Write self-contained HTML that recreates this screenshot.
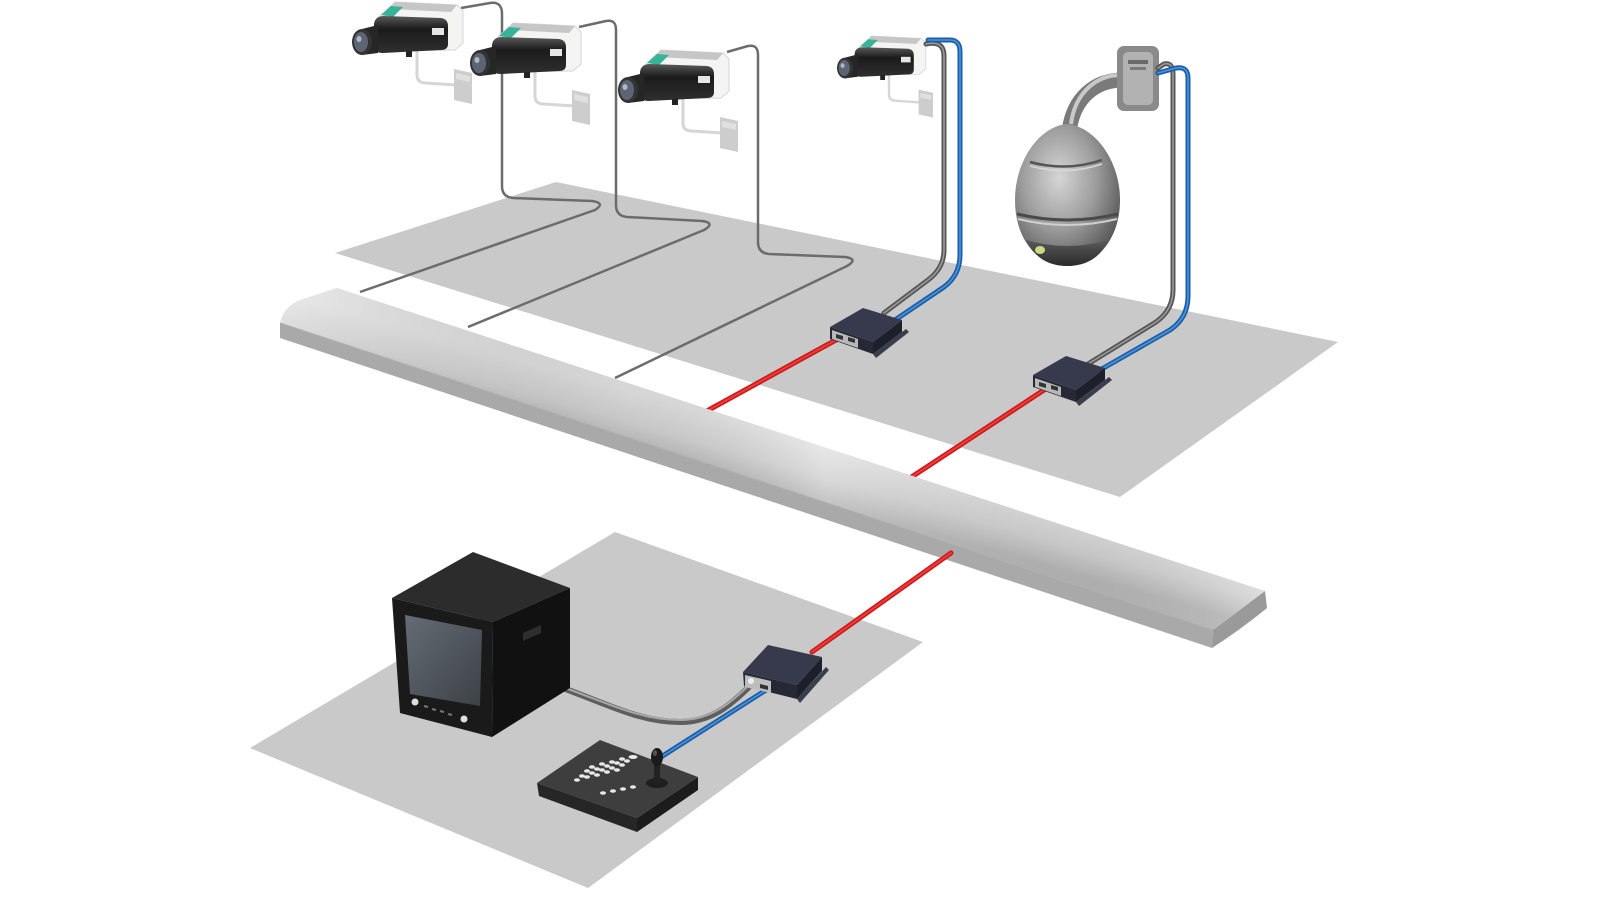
<!DOCTYPE html>
<html><head><meta charset="utf-8"><style>html,body{margin:0;padding:0;background:#fff;}svg{display:block}</style></head>
<body>
<svg width="1600" height="900" viewBox="0 0 1600 900" xmlns="http://www.w3.org/2000/svg">
<defs>
 <linearGradient id="barTop" gradientUnits="userSpaceOnUse" x1="800" y1="439" x2="785" y2="492">
  <stop offset="0" stop-color="#e4e4e4"/><stop offset="0.55" stop-color="#d4d4d4"/><stop offset="1" stop-color="#b9b9b9"/>
 </linearGradient>
 <linearGradient id="barLen" gradientUnits="userSpaceOnUse" x1="280" y1="0" x2="1270" y2="0">
  <stop offset="0" stop-color="#fff" stop-opacity="0.25"/><stop offset="0.35" stop-color="#000" stop-opacity="0.06"/><stop offset="0.55" stop-color="#fff" stop-opacity="0.15"/><stop offset="0.8" stop-color="#000" stop-opacity="0.06"/><stop offset="1" stop-color="#fff" stop-opacity="0.15"/>
 </linearGradient>
 <linearGradient id="camBody" x1="0" y1="0" x2="0" y2="1">
  <stop offset="0" stop-color="#5a5a5a"/><stop offset="0.35" stop-color="#1b1b1b"/><stop offset="1" stop-color="#2f2f2f"/>
 </linearGradient>
 <radialGradient id="domeG" cx="0.42" cy="0.38" r="0.65">
  <stop offset="0" stop-color="#d6d6d6"/><stop offset="0.55" stop-color="#9c9c9c"/><stop offset="1" stop-color="#585858"/>
 </radialGradient>
 <linearGradient id="screenG" x1="0" y1="0" x2="1" y2="1">
  <stop offset="0" stop-color="#666c74"/><stop offset="1" stop-color="#3c4148"/>
 </linearGradient>
 <linearGradient id="glassG" x1="0" y1="0" x2="0" y2="1">
  <stop offset="0" stop-color="#5a5a5a"/><stop offset="1" stop-color="#2a2a2a"/>
 </linearGradient>
 <g id="cam">
  <path d="M55,9 L55,33 Q55,41 64,41 L94,43" fill="none" stroke="#d6d6d6" stroke-width="3"/>
  <path d="M92,27 L110,31 L110,62 L92,58 Z" fill="#cdcdcd"/>
  <path d="M94,31 L108,34 L108,40 L94,37Z" fill="#e0e0e0"/>
  <path d="M18,-26 L33,-40 L95,-37 L101,-31 L101,1 L93,8 L30,9 Z" fill="#f4f4f2" stroke="#d5d5d5" stroke-width="1"/>
  <path d="M33,-40 L95,-37 L89,-30 L27,-33 Z" fill="#c6c6c6"/>
  <path d="M19,-27 L29,-36 L41,-35 L31,-25 Z" fill="#37b39a"/>
  <path d="M12,-18 Q13,-26 22,-26 L79,-24 Q86,-23 86,-16 L86,2 Q86,8 79,8 L21,11 Q12,11 12,4 Z" fill="url(#camBody)"/>
  <path d="M70,-14 L82,-14 L82,-7 L70,-7Z" fill="#e6e6e6"/>
  <rect x="44" y="9" width="6" height="6" fill="#222"/>
  <path d="M0,-13 L16,-17 L16,11 L0,13 Z" fill="#262626"/>
  <ellipse cx="0" cy="0" rx="10" ry="13" fill="#333"/>
  <ellipse cx="-1" cy="0" rx="7" ry="10" fill="#5d6474"/>
  <ellipse cx="-3" cy="-3" rx="2.5" ry="3" fill="#b0b8c8"/>
 </g>
 <g id="sw">
  <path d="M0,0 L43,15 L43,27 L0,12 Z" fill="#262835"/>
  <path d="M43,15 L72,-7 L72,5 L43,27 Z" fill="#1d1f2a"/>
  <path d="M43,27 L76,2 L79,5 L46,31 Z" fill="#3a3d4c"/>
  <path d="M0,0 L33,-19 L72,-7 L43,15 Z" fill="#363a4c"/>
  <path d="M2,3 L28,12 L28,21 L2,12 Z" fill="#b8b8b8"/>
  <path d="M6,7 L13,9 L13,13 L6,11Z" fill="#333"/>
  <path d="M18,10 L25,12 L25,16 L18,14Z" fill="#333"/>
 </g>
</defs>

<!-- floors -->
<polygon points="335,253 556,182 1338,342 1120,497" fill="#c9c9c9"/>
<polygon points="615,532 923,642 588,888 250,748" fill="#c9c9c9"/>

<!-- thin camera cables -->
<g fill="none" stroke="#6c6c6c" stroke-width="2.5" stroke-linejoin="round">
 <path d="M461,8 L490,3 Q502,1 502,14 L502,186 Q502,197 513,198 L592,201 Q606,203 595,210 L360,292"/>
 <path d="M579,27 L606,21 Q616,19 616,30 L616,205 Q616,216 627,217 L702,221 Q716,223 704,230 L468,327"/>
 <path d="M727,52 L748,46 Q758,44 758,55 L758,242 Q758,253 769,254 L845,257 Q859,259 847,266 L615,378"/>
</g>

<!-- cameras -->
<use href="#cam" transform="translate(362,42)"/>
<use href="#cam" transform="translate(480,63)"/>
<use href="#cam" transform="translate(628,90)"/>
<use href="#cam" transform="translate(845,68) scale(0.8)"/>

<!-- cam4 cables -->
<g fill="none" stroke-linecap="round" stroke-linejoin="round">
 <path d="M926,44 Q944,40 944,56 L944,250 Q944,268 928,280 L884,313" stroke="#555" stroke-width="5"/>
 <path d="M926,44 Q944,40 944,56 L944,250 Q944,268 928,280 L884,313" stroke="#9a9a9a" stroke-width="1.6"/>
 <path d="M928,40 L950,40 Q960,40 960,52 L960,255 Q960,275 944,287 L895,320" stroke="#1b5ea8" stroke-width="5"/>
 <path d="M928,40 L950,40 Q960,40 960,52 L960,255 Q960,275 944,287 L895,320" stroke="#4d93dc" stroke-width="1.6"/>
</g>

<!-- dome camera -->
<g>
 <path d="M1123,80 C1095,80 1073,98 1069,132" stroke="#7a7a7a" stroke-width="15" fill="none" stroke-linecap="round"/>
 <path d="M1121,75 C1096,75 1075,93 1071,124" stroke="#c9c9c9" stroke-width="4" fill="none"/>
 <rect x="1117" y="46" width="42" height="65" rx="7" fill="#8a8a8a"/>
 <rect x="1123" y="52" width="30" height="53" rx="5" fill="#b2b2b2"/>
 <rect x="1128" y="60" width="20" height="4" fill="#6a6a6a"/>
 <rect x="1130" y="67" width="16" height="3" fill="#7a7a7a"/>
 <path d="M1067,124 C1040,126 1015,160 1015,200 C1015,240 1038,266 1067,266 C1096,266 1120,240 1120,200 C1120,160 1094,126 1067,124 Z" fill="url(#domeG)"/>
 <path d="M1030,162 Q1067,172 1102,160" stroke="#555" stroke-width="2.5" fill="none"/>
 <path d="M1030,166 Q1067,176 1102,164" stroke="#d8d8d8" stroke-width="1.5" fill="none"/>
 <path d="M1017,214 Q1067,226 1118,214" stroke="#4a4a4a" stroke-width="3" fill="none"/>
 <path d="M1018,219 Q1067,231 1117,219" stroke="#d0d0d0" stroke-width="2" fill="none"/>
 <path d="M1026,240 Q1067,252 1109,240 C1100,258 1086,266 1067,266 C1048,266 1034,257 1026,240 Z" fill="url(#glassG)"/>
 <ellipse cx="1040" cy="250" rx="5" ry="4" fill="#cfd880"/>
</g>

<!-- dome cables -->
<g fill="none" stroke-linecap="round" stroke-linejoin="round">
 <path d="M1158,68 L1164,64 Q1173,62 1173,74 L1173,290 Q1173,310 1156,322 L1088,364" stroke="#555" stroke-width="5"/>
 <path d="M1158,68 L1164,64 Q1173,62 1173,74 L1173,290 Q1173,310 1156,322 L1088,364" stroke="#9a9a9a" stroke-width="1.6"/>
 <path d="M1158,73 L1176,68 Q1188,66 1188,78 L1188,296 Q1188,318 1170,330 L1100,370" stroke="#1b5ea8" stroke-width="5"/>
 <path d="M1158,73 L1176,68 Q1188,66 1188,78 L1188,296 Q1188,318 1170,330 L1100,370" stroke="#4d93dc" stroke-width="1.6"/>
</g>

<!-- red lines upper -->
<g stroke-linecap="round">
 <line x1="845" y1="335" x2="705" y2="412" stroke="#c81a1a" stroke-width="5"/>
 <line x1="845" y1="335" x2="705" y2="412" stroke="#f03838" stroke-width="2"/>
 <line x1="1047" y1="388" x2="910" y2="478" stroke="#c81a1a" stroke-width="5"/>
 <line x1="1047" y1="388" x2="910" y2="478" stroke="#f03838" stroke-width="2"/>
</g>

<!-- switches -->
<use href="#sw" transform="translate(830,327)"/>
<use href="#sw" transform="translate(1033,375)"/>

<!-- bar -->
<path d="M280,323 L1213,630 L1212,648 L280,338 Z" fill="#a9a9a9"/>
<path d="M1265,591 L1267,608 Q1240,630 1212,648 L1213,630 Z" fill="#9a9a9a"/>
<path d="M337,288 L1265,591 L1213,630 L280,323 Q284,306 300,300 Z" fill="url(#barTop)"/>
<path d="M337,288 L1265,591 L1213,630 L280,323 Q284,306 300,300 Z" fill="url(#barLen)"/>
<path d="M280,323 L1213,630" stroke="#b0b0b0" stroke-width="1"/>

<!-- red line lower -->
<g stroke-linecap="round">
 <line x1="951" y1="553" x2="812" y2="652" stroke="#c81a1a" stroke-width="5"/>
 <line x1="951" y1="553" x2="812" y2="652" stroke="#f03838" stroke-width="2"/>
</g>

<!-- monitor cable & blue to joystick -->
<g fill="none" stroke-linecap="round">
 <path d="M560,687 C610,705 640,722 680,722 C712,722 732,704 752,684" stroke="#5e5e5e" stroke-width="6"/>
 <path d="M560,686 C610,704 640,720 680,720 C712,720 732,702 752,682" stroke="#a8a8a8" stroke-width="2"/>
 <path d="M766,690 L661,757" stroke="#1b5ea8" stroke-width="5"/>
 <path d="M766,690 L661,757" stroke="#4d93dc" stroke-width="1.6"/>
</g>

<!-- lower switch -->
<g>
 <path d="M743,672 L797,685 L797,699 L744,686 Z" fill="#262835"/>
 <path d="M797,685 L822,657 L822,671 L797,699 Z" fill="#1d1f2a"/>
 <path d="M797,699 L826,667 L829,670 L800,703 Z" fill="#3a3d4c"/>
 <path d="M743,672 L768,645 L822,657 L797,685 Z" fill="#363a4c"/>
 <path d="M745,675 L771,681 L771,693 L745,687 Z" fill="#bdbdbd"/>
 <circle cx="751" cy="681" r="3" fill="#eee"/>
 <path d="M760,684 L768,686 L768,690 L760,688Z" fill="#333"/>
</g>

<!-- monitor -->
<g>
 <polygon points="392,598 473,552 570,588 493,622" fill="#2c2c2c"/>
 <polygon points="392,598 493,622 492,737 400,713" fill="#1a1a1a"/>
 <polygon points="493,622 570,588 570,688 492,737" fill="#111"/>
 <polygon points="405,615 482,630 480,706 410,694" fill="url(#screenG)"/>
 <circle cx="415" cy="702" r="3.5" fill="#ddd"/>
 <circle cx="464" cy="719" r="3.5" fill="#ddd"/>
 <path d="M424,706 L428,707 M432,709 L436,710 M440,711 L444,712 M448,714 L452,715" stroke="#777" stroke-width="2"/>
 <polygon points="523,633 541,625 541,633 523,641" fill="#2e2e2e"/>
</g>

<!-- keyboard -->
<g>
 <polygon points="537,783 637,818 637,832 539,796" fill="#262626"/>
 <polygon points="637,818 698,777 698,790 637,832" fill="#1c1c1c"/>
 <polygon points="537,783 600,740 698,777 637,818" fill="#3e3e3e"/>
 <g fill="#e8e8e8">
  <ellipse cx="592" cy="767" rx="3" ry="1.8"/><ellipse cx="602" cy="764" rx="3" ry="1.8"/><ellipse cx="612" cy="762" rx="3" ry="1.8"/><ellipse cx="622" cy="759" rx="3" ry="1.8"/><ellipse cx="633" cy="757" rx="4.5" ry="2"/>
  <ellipse cx="587" cy="771" rx="3" ry="1.8"/><ellipse cx="597" cy="769" rx="3" ry="1.8"/><ellipse cx="607" cy="766" rx="3" ry="1.8"/><ellipse cx="617" cy="763" rx="3" ry="1.8"/><ellipse cx="627" cy="761" rx="3" ry="1.8"/>
  <ellipse cx="582" cy="776" rx="3" ry="1.8"/><ellipse cx="592" cy="773" rx="3" ry="1.8"/><ellipse cx="602" cy="770" rx="3" ry="1.8"/><ellipse cx="612" cy="768" rx="3" ry="1.8"/><ellipse cx="622" cy="765" rx="3" ry="1.8"/>
  <ellipse cx="577" cy="780" rx="3" ry="1.8"/><ellipse cx="587" cy="777" rx="3" ry="1.8"/><ellipse cx="597" cy="775" rx="3" ry="1.8"/><ellipse cx="607" cy="772" rx="3" ry="1.8"/><ellipse cx="617" cy="770" rx="3" ry="1.8"/>
  <ellipse cx="603" cy="793" rx="3" ry="1.8"/><ellipse cx="613" cy="791" rx="3" ry="1.8"/><ellipse cx="623" cy="789" rx="3" ry="1.8"/><ellipse cx="633" cy="787" rx="3" ry="1.8"/>
 </g>
 <ellipse cx="657" cy="783" rx="11" ry="5" fill="#1e1e1e"/>
 <rect x="654" y="760" width="6" height="22" fill="#222"/>
 <ellipse cx="657" cy="757" rx="6" ry="9" fill="#1a1a1a"/>
 <ellipse cx="655" cy="753" rx="2" ry="3" fill="#555"/>
</g>
</svg>
</body></html>
